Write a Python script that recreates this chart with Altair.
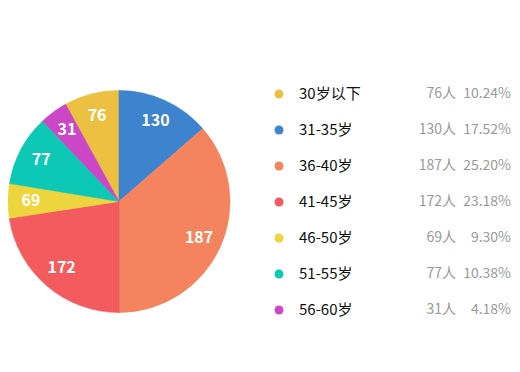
import altair as alt
import pandas as pd

# Legend order
categories = ["30岁以下", "31-35岁", "36-40岁", "41-45岁", "46-50岁", "51-55岁", "56-60岁"]
counts = [76, 130, 187, 172, 69, 77, 31]
# Slice sizes as drawn in the picture (percent of the full circle)
slice_share = [8.0, 13.6, 36.4, 22.6, 5.0, 10.3, 4.1]
# Drawing order clockwise from 12 o'clock
draw_order = [6, 0, 1, 2, 3, 4, 5]
colors = ["#ECC040", "#3E83CE", "#F3845D", "#F45B5E", "#EFD53D", "#0DC8B5", "#CC46C8"]

total = sum(counts)
df = pd.DataFrame({
    "cat": categories,
    "count": counts,
    "share": slice_share,
    "ord": draw_order,
    "countLabel": [f"{c}人" for c in counts],
    "pctLabel": [f"{c / total * 100:.2f}%" for c in counts],
})

FONT = "Noto Sans CJK SC"
CX, CY, R = 111, 193.5, 111

color = alt.Color("cat:N", scale=alt.Scale(domain=categories, range=colors), legend=None)
theta = alt.Theta("share:Q", stack=True)
order = alt.Order("ord:Q", sort="ascending")

base = alt.Chart(df)

pie = base.mark_arc(outerRadius=R, strokeWidth=0.6).encode(
    theta=theta, color=color, stroke=alt.Stroke("cat:N", scale=alt.Scale(domain=categories, range=colors), legend=None),
    order=order,
    x=alt.value(CX), y=alt.value(CY),
)

pie_text = base.mark_text(
    radius=88, fontSize=16, fontWeight="bold", color="white", font=FONT,
    align="center", baseline="middle",
).encode(
    theta=theta, order=order, text="count:Q",
    x=alt.value(CX), y=alt.value(CY),
)

yenc = alt.Y("cat:N", sort=categories,
             scale=alt.Scale(range=[86, 302], padding=0), axis=None)

dots = base.mark_point(filled=True, size=80, opacity=1, shape="circle").encode(
    x=alt.value(271), y=yenc, color=color,
)

labels = base.mark_text(align="left", baseline="middle", fontSize=15, font=FONT, color="#111111").encode(
    x=alt.value(291), y=yenc, text="cat:N",
)

count_text = base.mark_text(align="right", baseline="middle", fontSize=14, font=FONT, color="#999999").encode(
    x=alt.value(448), y=yenc, text="countLabel:N",
)

pct_text = base.mark_text(align="right", baseline="middle", fontSize=14, font=FONT, color="#999999").encode(
    x=alt.value(503), y=yenc, text="pctLabel:N",
)

chart = alt.layer(pie, pie_text, dots, labels, count_text, pct_text).properties(
    width=504, height=356,
    autosize=alt.AutoSizeParams(type="none"),
    padding=0,
).configure_view(stroke=None)

chart.save("out.html", embed_options={"renderer": "svg", "actions": False})
